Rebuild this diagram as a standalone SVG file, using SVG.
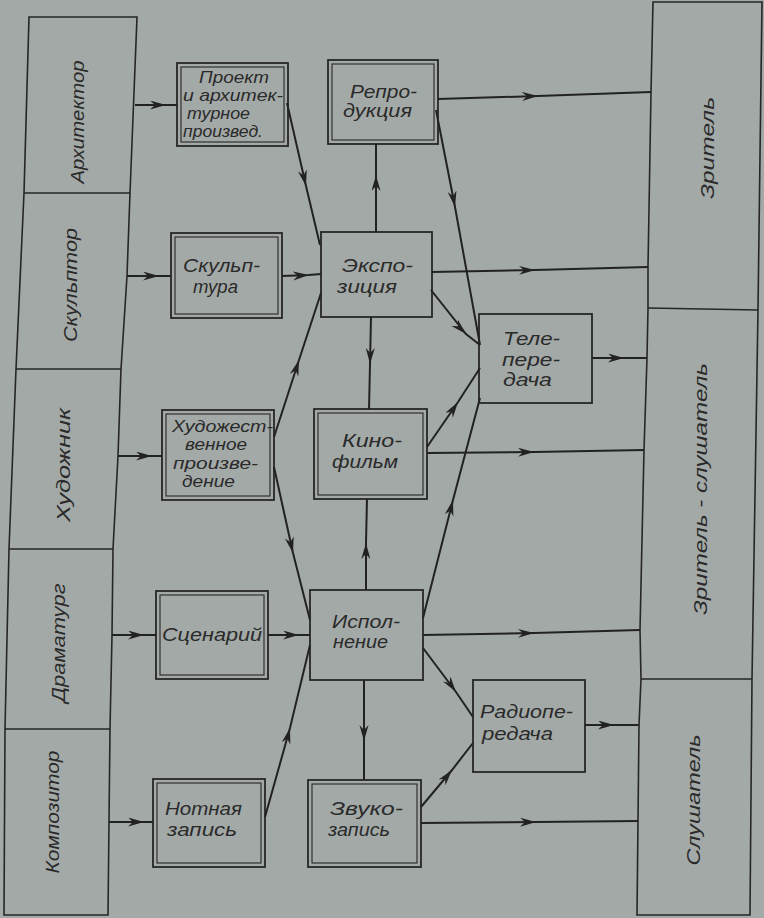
<svg xmlns="http://www.w3.org/2000/svg" width="764" height="918" viewBox="0 0 764 918">
<style>
.bg{fill:#a3a9a7}
.col{fill:none;stroke:#262626;stroke-width:1.6}
.box{fill:none;stroke:#262626;stroke-width:1.8}
.inner{fill:none;stroke:#262626;stroke-width:1.1}
.c{fill:none;stroke:#222;stroke-width:2;marker-mid:url(#ah)}
text{font-family:"Liberation Sans","DejaVu Sans",sans-serif;font-style:italic;font-size:18px;fill:#2a2a2a}
.sm{font-size:16.5px}
.lbl{font-size:19px}
</style>
<defs>
<marker id="ah" markerUnits="userSpaceOnUse" markerWidth="18" markerHeight="10" refX="16" refY="4.5" orient="auto">
<path d="M0,0 L16,4.5 L0,9 L5,4.5 Z" fill="#222"/>
</marker>
</defs>
<rect class="bg" x="0" y="0" width="764" height="918"/>

<g id="left-column">
<path class="col" d="M29,17 L137,17 L130,193 L127,276 L121,369 L118,456 L113,549 L112,635 L110,729 L109,822 L108,915 L4,915 L5,729 L9,549 L16,369 L24,193 Z"/>
<path class="col" d="M24,193 L130,193 M16,369 L121,369 M9,549 L113,549 M5,729 L110,729"/>
</g>
<g id="architect"><text class="lbl" transform="translate(77,122) rotate(-90)" text-anchor="middle" y="7" textLength="123" lengthAdjust="spacingAndGlyphs">Архитектор</text></g>
<g id="sculptor"><text class="lbl" transform="translate(70,285) rotate(-90)" text-anchor="middle" y="7" textLength="114" lengthAdjust="spacingAndGlyphs">Скульптор</text></g>
<g id="painter"><text class="lbl" transform="translate(63,465) rotate(-90)" text-anchor="middle" y="7" textLength="114" lengthAdjust="spacingAndGlyphs">Художник</text></g>
<g id="playwright"><text class="lbl" transform="translate(58,643) rotate(-90)" text-anchor="middle" y="7" textLength="119" lengthAdjust="spacingAndGlyphs">Драматург</text></g>
<g id="composer"><text class="lbl" transform="translate(52,812) rotate(-90)" text-anchor="middle" y="7" textLength="123" lengthAdjust="spacingAndGlyphs">Композитор</text></g>

<g id="right-column">
<path class="col" d="M653,2 L762,2 L758,310 L752,679 L750,915 L637,915 L638,821 L639,725 L641,679 L640,630 L644,450 L647,358 L648,308 L648,267 L651,92 Z"/>
<path class="col" d="M648,308 L758,310 M641,679 L752,679"/>
</g>
<g id="viewer"><text class="lbl" transform="translate(707,148) rotate(-90)" text-anchor="middle" y="7" textLength="102" lengthAdjust="spacingAndGlyphs">Зритель</text></g>
<g id="viewer-listener"><text class="lbl" transform="translate(700,489) rotate(-90)" text-anchor="middle" y="7" textLength="252" lengthAdjust="spacingAndGlyphs">Зритель - слушатель</text></g>
<g id="listener"><text class="lbl" transform="translate(693,800) rotate(-90)" text-anchor="middle" y="7" textLength="131" lengthAdjust="spacingAndGlyphs">Слушатель</text></g>

<g id="project">
<rect class="box" x="177" y="63" width="111" height="83"/>
<rect class="inner" x="181" y="67" width="103" height="75"/>
<text class="sm" x="199" y="83" textLength="70" lengthAdjust="spacingAndGlyphs">Проект</text>
<text class="sm" x="183" y="101" textLength="100" lengthAdjust="spacingAndGlyphs">и архитек-</text>
<text class="sm" x="187" y="119" textLength="63" lengthAdjust="spacingAndGlyphs">турное</text>
<text class="sm" x="183" y="137" textLength="80" lengthAdjust="spacingAndGlyphs">произвед.</text>
</g>
<g id="sculpture">
<rect class="box" x="171" y="233" width="111" height="85"/>
<rect class="inner" x="175" y="237" width="103" height="77"/>
<text x="183" y="272" textLength="77" lengthAdjust="spacingAndGlyphs">Скульп-</text>
<text x="193" y="293" textLength="45" lengthAdjust="spacingAndGlyphs">тура</text>
</g>
<g id="artwork">
<rect class="box" x="162" y="410" width="112" height="90"/>
<rect class="inner" x="166" y="414" width="104" height="82"/>
<text class="sm" x="172" y="432" textLength="101" lengthAdjust="spacingAndGlyphs">Художест-</text>
<text class="sm" x="185" y="450" textLength="62" lengthAdjust="spacingAndGlyphs">венное</text>
<text class="sm" x="173" y="469" textLength="85" lengthAdjust="spacingAndGlyphs">произве-</text>
<text class="sm" x="182" y="487" textLength="53" lengthAdjust="spacingAndGlyphs">дение</text>
</g>
<g id="script">
<rect class="box" x="156" y="591" width="112" height="88"/>
<rect class="inner" x="160" y="595" width="104" height="80"/>
<text x="162" y="641" textLength="100" lengthAdjust="spacingAndGlyphs">Сценарий</text>
</g>
<g id="score">
<rect class="box" x="153" y="779" width="112" height="88"/>
<rect class="inner" x="157" y="783" width="104" height="80"/>
<text x="165" y="815" textLength="77" lengthAdjust="spacingAndGlyphs">Нотная</text>
<text x="167" y="836" textLength="70" lengthAdjust="spacingAndGlyphs">запись</text>
</g>
<g id="reproduction">
<rect class="box" x="328" y="60" width="110" height="84"/>
<rect class="inner" x="332" y="64" width="102" height="76"/>
<text x="350" y="98" textLength="67" lengthAdjust="spacingAndGlyphs">Репро-</text>
<text x="343" y="117" textLength="69" lengthAdjust="spacingAndGlyphs">дукция</text>
</g>
<g id="exposition">
<rect class="box" x="321" y="232" width="111" height="85"/>
<text x="342" y="272" textLength="71" lengthAdjust="spacingAndGlyphs">Экспо-</text>
<text x="337" y="293" textLength="60" lengthAdjust="spacingAndGlyphs">зиция</text>
</g>
<g id="film">
<rect class="box" x="314" y="409" width="113" height="90"/>
<rect class="inner" x="318" y="413" width="105" height="82"/>
<text x="342" y="447" textLength="60" lengthAdjust="spacingAndGlyphs">Кино-</text>
<text x="332" y="468" textLength="66" lengthAdjust="spacingAndGlyphs">фильм</text>
</g>
<g id="performance">
<rect class="box" x="310" y="590" width="113" height="90"/>
<text x="332" y="628" textLength="68" lengthAdjust="spacingAndGlyphs">Испол-</text>
<text x="333" y="648" textLength="55" lengthAdjust="spacingAndGlyphs">нение</text>
</g>
<g id="recording">
<rect class="box" x="308" y="780" width="113" height="87"/>
<rect class="inner" x="312" y="784" width="105" height="79"/>
<text x="330" y="815" textLength="73" lengthAdjust="spacingAndGlyphs">Звуко-</text>
<text x="328" y="836" textLength="62" lengthAdjust="spacingAndGlyphs">запись</text>
</g>
<g id="tv">
<rect class="box" x="479" y="314" width="113" height="89"/>
<text x="503" y="345" textLength="57" lengthAdjust="spacingAndGlyphs">Теле-</text>
<text x="502" y="366" textLength="58" lengthAdjust="spacingAndGlyphs">пере-</text>
<text x="503" y="386" textLength="49" lengthAdjust="spacingAndGlyphs">дача</text>
</g>
<g id="radio">
<rect class="box" x="473" y="680" width="112" height="92"/>
<text x="480" y="718" textLength="93" lengthAdjust="spacingAndGlyphs">Радиопе-</text>
<text x="482" y="740" textLength="71" lengthAdjust="spacingAndGlyphs">редача</text>
</g>

<g id="connectors">
<path class="c" d="M135,105 L166,105 L177,105"/>
<path class="c" d="M127,276 L159,276 L171,276"/>
<path class="c" d="M118,456 L152,456 L162,456"/>
<path class="c" d="M112,635 L144,635 L156,635"/>
<path class="c" d="M109,822 L144,822 L153,822"/>
<path class="c" d="M287,103 L306,186 L320,245"/>
<path class="c" d="M282,276 L309,275 L321,274"/>
<path class="c" d="M274,437 L299,360 L321,293"/>
<path class="c" d="M274,467 L293,553 L310,620"/>
<path class="c" d="M268,635 L299,635 L310,635"/>
<path class="c" d="M265,817 L290,728 L310,645"/>
<path class="c" d="M376,232 L376,175 L376,144"/>
<path class="c" d="M371,317 L370,364 L369,409"/>
<path class="c" d="M366,590 L366,543 L367,499"/>
<path class="c" d="M364,680 L364,741 L364,780"/>
<path class="c" d="M438,99 L538,96 L651,92"/>
<path class="c" d="M432,272 L535,270 L648,267"/>
<path class="c" d="M436,110 L455,207 L480,345"/>
<path class="c" d="M431,290 L466,334 L480,345"/>
<path class="c" d="M592,358 L624,358 L647,358"/>
<path class="c" d="M427,447 L458,402 L480,368"/>
<path class="c" d="M427,453 L534,452 L644,450"/>
<path class="c" d="M423,618 L453,500 L480,398"/>
<path class="c" d="M423,635 L534,633 L640,630"/>
<path class="c" d="M423,648 L456,692 L473,717"/>
<path class="c" d="M585,725 L614,725 L639,725"/>
<path class="c" d="M421,807 L452,770 L473,743"/>
<path class="c" d="M421,823 L536,822 L638,821"/>
</g>
</svg>
